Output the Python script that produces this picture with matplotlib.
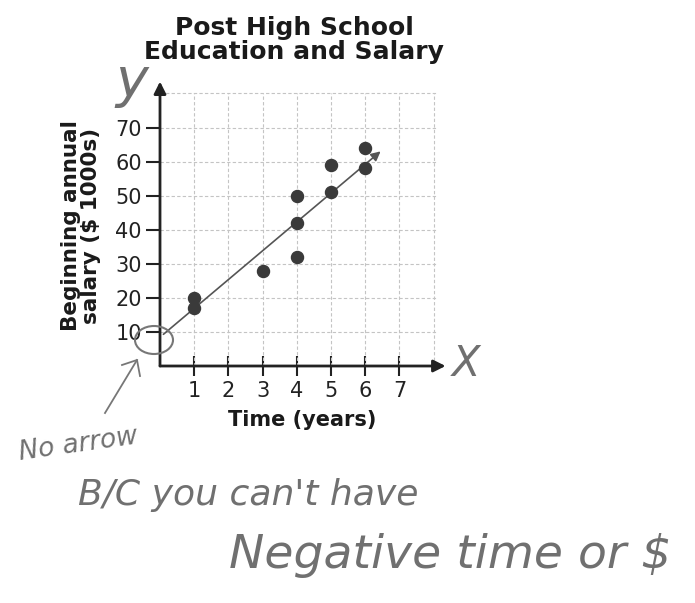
import matplotlib.pyplot as plt
from matplotlib.patches import Ellipse

years = [1, 1, 3, 4, 4, 4, 5, 5, 6, 6]
salary = [20, 17, 28, 32, 42, 50, 51, 59, 58, 64]
trend_x = [0.1, 6.45]
trend_y = [9.3, 63]
xticks = [1, 2, 3, 4, 5, 6, 7]
yticks = [10, 20, 30, 40, 50, 60, 70]
grid_x = [1, 2, 3, 4, 5, 6, 7, 8]
grid_y = [10, 20, 30, 40, 50, 60, 70, 80]

W, H = 695, 603
fig = plt.figure(figsize=(6.95, 6.03), dpi=100)
fig.patch.set_facecolor('white')

def fx(x):
    return x / W

def fy(y):
    return 1 - y / H

# origin in pixels and pixels per unit
x0, y0 = 160, 366
ux, uy = 34.2, 3.407
xmax, ymax = 8.8, 86
ax = fig.add_axes([fx(x0), fy(y0), xmax * ux / W, ymax * uy / H])
ax.set_xlim(0, xmax)
ax.set_ylim(0, ymax)
for s in ax.spines.values():
    s.set_visible(False)

# dashed grid
ax.vlines(grid_x, 0, 80, colors='#c4c4c4', linestyles=(0, (3, 2)), lw=0.8)
ax.hlines(grid_y, 0, 8.1, colors='#c4c4c4', linestyles=(0, (3, 2)), lw=0.8)

# axes with arrow heads
ax.annotate('', xy=(8.35, 0), xytext=(0, 0), annotation_clip=False,
            arrowprops=dict(arrowstyle='-|>', lw=2, color='#222222',
                            mutation_scale=18, shrinkA=0, shrinkB=0))
ax.annotate('', xy=(0, 83.5), xytext=(0, 0), annotation_clip=False,
            arrowprops=dict(arrowstyle='-|>', lw=2, color='#222222',
                            mutation_scale=18, shrinkA=0, shrinkB=0))

# trend line
ax.annotate('', xy=(trend_x[1], trend_y[1]), xytext=(trend_x[0], trend_y[0]),
            arrowprops=dict(arrowstyle='-|>', lw=1.2, color='#555555',
                            mutation_scale=14, shrinkA=0, shrinkB=0))

ax.scatter(years, salary, s=75, color='#3a3a3a', zorder=5)

ax.set_xticks(xticks)
ax.set_yticks(yticks)
ax.tick_params(axis='x', direction='inout', length=14, width=1.5, pad=4,
               labelsize=15, colors='#222222')
ax.tick_params(axis='y', direction='out', length=10, width=1.5, pad=3,
               labelsize=15, colors='#222222')

fig.text(fx(294), fy(40), 'Post High School\nEducation and Salary',
         ha='center', va='center', fontsize=18, fontweight='bold',
         linespacing=0.95, color='#1a1a1a')
fig.text(fx(81), fy(226), 'Beginning annual\nsalary ($ 1000s)',
         ha='center', va='center', rotation=90, fontsize=15.5,
         fontweight='bold', linespacing=1.0, color='#1a1a1a')
fig.text(fx(302), fy(420), 'Time (years)', ha='center', va='center',
         fontsize=15, fontweight='bold', color='#1a1a1a')

# handwritten marks
hand = dict(color='#707070', fontstyle='italic')
fig.text(fx(132), fy(82), 'y', ha='center', va='center', fontsize=40, **hand)
fig.text(fx(466), fy(364), 'X', ha='center', va='center', fontsize=30,
         fontweight='light', **hand)
fig.add_artist(Ellipse((fx(154), fy(340)), 38 / W, 28 / H,
                       transform=fig.transFigure, fill=False,
                       ec='#777777', lw=1.5))
fig.add_artist(plt.Line2D([fx(105), fx(137)], [fy(413), fy(360)],
                          transform=fig.transFigure, color='#777777', lw=1.3))
fig.add_artist(plt.Line2D([fx(122), fx(137), fx(140)],
                          [fy(365), fy(360), fy(376)],
                          transform=fig.transFigure, color='#777777', lw=1.3))
fig.text(fx(78), fy(445), 'No arrow', ha='center', va='center',
         fontsize=19, rotation=8, **hand)
fig.text(fx(248), fy(495), "B/C you can't have", ha='center', va='center',
         fontsize=26, **hand)
fig.text(fx(450), fy(555), 'Negative time or $', ha='center', va='center',
         fontsize=34, **hand)

fig.savefig('out.png', dpi=100)
